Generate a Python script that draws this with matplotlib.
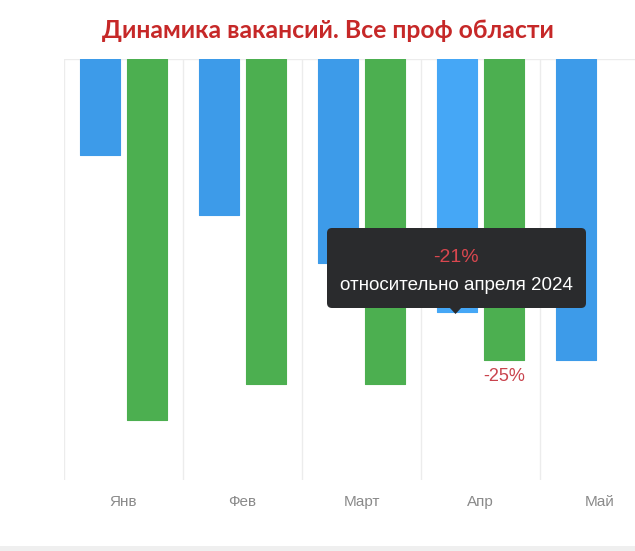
import matplotlib
matplotlib.use("Agg")
import matplotlib.pyplot as plt
import numpy as np
from matplotlib.patches import FancyBboxPatch, Polygon, Rectangle

# month labels and % change of vacancies
months = ["Янв", "Фев", "Март", "Апр", "Май"]
blue_vals = [-8, -13, -17, -21, -25]
green_vals = [-30, -27, -27, -25, np.nan]
tooltip_value = "-21%"
tooltip_text = "относительно апреля 2024"
green_label = "-25%"
title = "Динамика вакансий. Все проф области"

BLUE = "#3d9be9"
BLUE_HI = "#45a7f6"
GREEN = "#4caf50"

W, H = 635, 551
fig = plt.figure(figsize=(W / 100, H / 100), dpi=100)
fig.patch.set_facecolor("white")
px = fig.dpi_scale_trans  # inches, i.e. pixels / 100


def P(x, y):
    return x / 100, (H - y) / 100


# plot area runs past the right edge, as in the cropped screenshot
ax = fig.add_axes([64 / W, (H - 480) / H, 595 / W, 421 / H])
x = np.arange(len(months))
w = 0.335
bcols = [BLUE_HI if m == "Апр" else BLUE for m in months]
ax.bar(x - 0.2, blue_vals, w, color=bcols, edgecolor=bcols, lw=0.8,
       joinstyle="round", zorder=3)
ax.bar(x + 0.2, green_vals, w, color=GREEN, edgecolor=GREEN, lw=0.8,
       joinstyle="round", zorder=3)
ax.set_xlim(-0.5, len(months) - 0.5)
ax.set_ylim(-35, 0)
for xv in np.arange(-0.5, len(months), 1.0):
    ax.axvline(xv, color="#ececec", lw=1, zorder=1)
ax.axhline(0, color="#ececec", lw=1, zorder=1)
for s in ax.spines.values():
    s.set_visible(False)
ax.set_yticks([])
ax.set_xticks(x)
ax.set_xticklabels(months, fontsize=11, color="#8a8a8a", family="Liberation Sans")
ax.tick_params(axis="x", length=0, pad=11)

ia = months.index("Апр")
ax.text(ia + 0.2, green_vals[ia] - 1.4, green_label, ha="center", va="center",
        fontsize=13, color="#c9434d", family="Liberation Sans")

fig.text(*P(328, 31), title, transform=px, ha="center", va="center",
         fontsize=17.8, fontweight="bold", color="#c62828", family="Lato")

# tooltip over April
box = FancyBboxPatch(P(327, 308), 259 / 100, 80 / 100, transform=px,
                     boxstyle="round,pad=0,rounding_size=0.05",
                     fc="#2a2b2d", ec="none", zorder=10)
fig.patches.append(box)
tri = Polygon([P(449, 307), P(462, 307), P(455.5, 314)], closed=True,
              transform=px, fc="#2a2b2d", ec="none", zorder=10)
fig.patches.append(tri)
fig.text(*P(456, 257), tooltip_value, transform=px, ha="center", va="center",
         fontsize=14, color="#d9474f", family="Liberation Sans", zorder=11)
fig.text(*P(456, 285), tooltip_text, transform=px, ha="center", va="center",
         fontsize=13.5, color="white", family="Liberation Sans", zorder=11)

# faint card edge at the bottom of the screenshot
fig.patches.append(Rectangle((0, 0), 1, 5 / H, transform=fig.transFigure,
                             fc="#efefef", ec="none", zorder=0))

fig.savefig("out.png", dpi=100)
